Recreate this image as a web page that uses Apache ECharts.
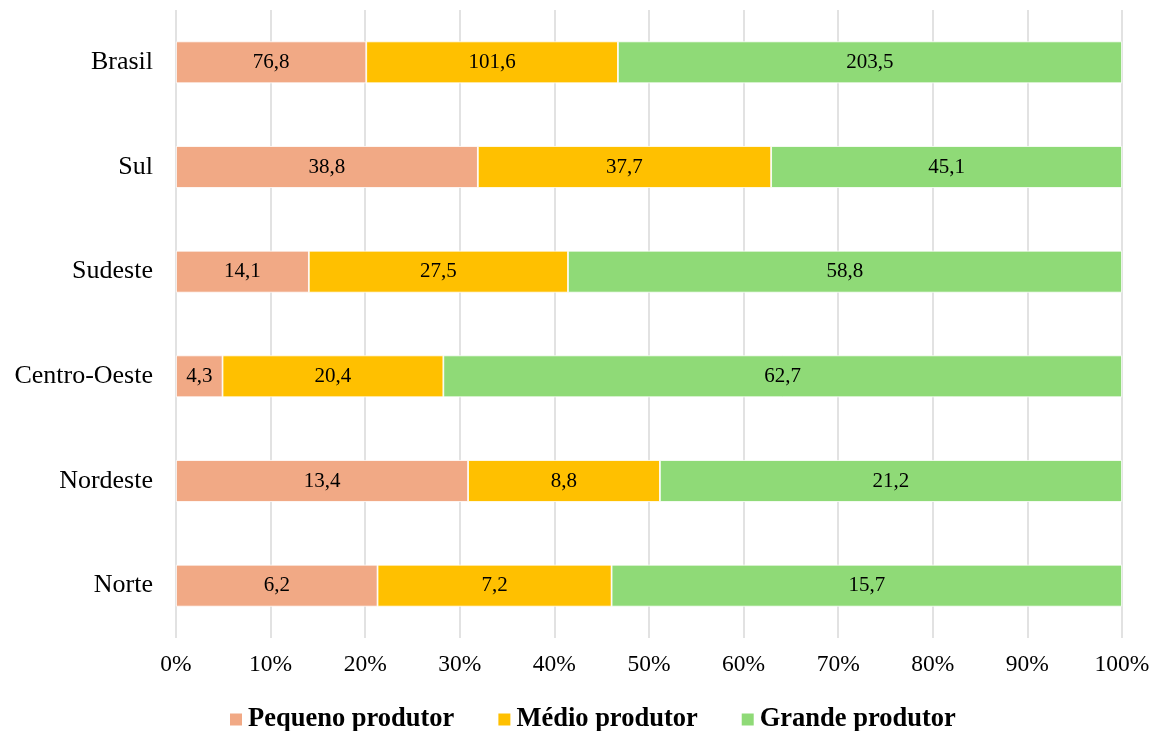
<!DOCTYPE html>
<html>
<head>
<meta charset="utf-8">
<script src="https://cdn.jsdelivr.net/npm/echarts@6/dist/echarts.min.js"></script>
<style>
  html, body { margin: 0; padding: 0; background: #fff; }
  #chart { width: 1157px; height: 731px; }
</style>
</head>
<body>
<div id="chart"></div>
<script>
// Regions, listed bottom to top as they appear on the category axis
const regioes = ['Norte', 'Nordeste', 'Centro-Oeste', 'Sudeste', 'Sul', 'Brasil'];
const pequeno = [6.2, 13.4, 4.3, 14.1, 38.8, 76.8];
const medio = [7.2, 8.8, 20.4, 27.5, 37.7, 101.6];
const grande = [15.7, 21.2, 62.7, 58.8, 45.1, 203.5];
const nomesSeries = ['Pequeno produtor', 'Médio produtor', 'Grande produtor'];
const cores = ['#F1A985', '#FFC000', '#8FDA77'];
const ticksX = [0, 10, 20, 30, 40, 50, 60, 70, 80, 90, 100];

const totais = regioes.map((_, i) => pequeno[i] + medio[i] + grande[i]);
const brutos = [pequeno, medio, grande];

const fmt = v => v.toFixed(1).replace('.', ',');
const serif = '"Liberation Serif", "Times New Roman", serif';

const series = brutos.map((vals, s) => ({
  name: nomesSeries[s],
  type: 'bar',
  stack: 'total',
  barCategoryGap: '60%',
  data: vals.map((v, i) => ({ value: v / totais[i] * 100, raw: v })),
  itemStyle: { color: cores[s], borderColor: '#ffffff', borderWidth: 0.8 },
  label: {
    show: true,
    position: 'inside',
    color: '#000',
    fontFamily: serif,
    fontSize: 21,
    formatter: p => fmt(p.data.raw)
  },
  emphasis: { disabled: true }
}));

const chart = echarts.init(document.getElementById('chart'), null, { renderer: 'canvas' });
chart.setOption({
  animation: false,
  backgroundColor: '#fff',
  grid: { left: 176, right: 35, top: 10, bottom: 93, containLabel: false },
  xAxis: {
    type: 'value',
    min: 0,
    max: 100,
    interval: 10,
    axisLine: { show: false },
    axisTick: { show: false },
    splitLine: { show: true, lineStyle: { color: '#d9d9d9', width: 1.5 } },
    axisLabel: {
      margin: 15,
      color: '#000',
      fontFamily: serif,
      fontSize: 23.5,
      formatter: v => (ticksX.includes(v) ? v + '%' : '')
    }
  },
  yAxis: {
    type: 'category',
    data: regioes,
    axisLine: { show: false },
    axisTick: { show: false },
    axisLabel: {
      margin: 23,
      color: '#000',
      fontFamily: serif,
      fontSize: 26
    }
  },
  legend: {
    data: nomesSeries,
    left: 228,
    top: 706,
    padding: 0,
    itemWidth: 14,
    itemHeight: 14,
    itemGap: 42,
    icon: 'rect',
    textStyle: {
      color: '#000',
      fontFamily: serif,
      fontWeight: 'bold',
      fontSize: 26.5
    }
  },
  series: series
});
</script>
</body>
</html>
